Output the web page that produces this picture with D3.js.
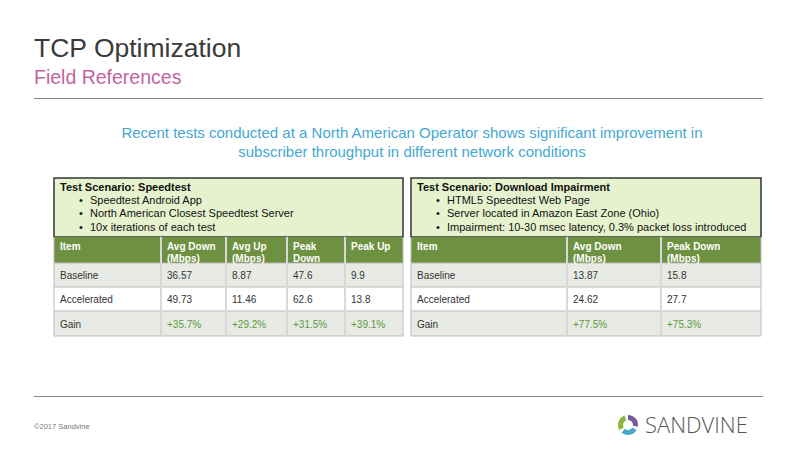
<!DOCTYPE html>
<html><head><meta charset="utf-8">
<script src="https://cdn.jsdelivr.net/npm/d3@7"></script>
<style>body{margin:0;background:#fff}svg{display:block;font-family:"Liberation Sans",Arial,sans-serif}</style>
</head><body><svg id="c" width="800" height="449"></svg>
<script>
const title="TCP Optimization", subtitle="Field References";
const intro=["Recent tests conducted at a North American Operator shows significant improvement in","subscriber throughput in different network conditions"];
const t1Title="Test Scenario: Speedtest";
const t1Bullets=["Speedtest Android App","North American Closest Speedtest Server","10x iterations of each test"];
const t1Headers=[["Item"],["Avg Down","(Mbps)"],["Avg Up","(Mbps)"],["Peak","Down"],["Peak Up"]];
const t1Rows=["Baseline","Accelerated","Gain"];
const t1Baseline=["36.57","8.87","47.6","9.9"];
const t1Accel=["49.73","11.46","62.6","13.8"];
const t1Gain=["+35.7%","+29.2%","+31.5%","+39.1%"];
const t2Title="Test Scenario: Download Impairment";
const t2Bullets=["HTML5 Speedtest Web Page","Server located in Amazon East Zone (Ohio)","Impairment: 10-30 msec latency, 0.3% packet loss introduced"];
const t2Headers=[["Item"],["Avg Down","(Mbps)"],["Peak Down","(Mbps)"]];
const t2Rows=["Baseline","Accelerated","Gain"];
const t2Baseline=["13.87","15.8"];
const t2Accel=["24.62","27.7"];
const t2Gain=["+77.5%","+75.3%"];

const svg=d3.select("#c");
svg.append("text").attr("x",34).attr("y",57).attr("font-size",26.5).attr("fill","#3a3a3a").text(title);
svg.append("text").attr("x",34).attr("y",84).attr("font-size",19.5).attr("fill","#c4649e").text(subtitle);
svg.append("line").attr("x1",34).attr("x2",763).attr("y1",98.5).attr("y2",98.5).attr("stroke","#888");
intro.forEach((t,i)=>svg.append("text").attr("x",412).attr("y",138+i*19).attr("text-anchor","middle").attr("font-size",15).attr("fill","#45a8d2").text(t));
svg.append("line").attr("x1",34).attr("x2",763).attr("y1",396.5).attr("y2",396.5).attr("stroke","#888");
svg.append("text").attr("x",34).attr("y",429).attr("font-size",7.5).attr("fill","#777").text("©2017 Sandvine");

function table(x0,cols,ttl,bullets,headers,rows,data){
  const x=d3.scaleOrdinal().domain(d3.range(cols.length)).range(cols);
  const g=svg.append("g");
  const w=cols[cols.length-1]-cols[0];
  g.append("rect").attr("x",cols[0]).attr("y",178).attr("width",w).attr("height",59).attr("fill","#e6f2cd").attr("stroke","#333").attr("stroke-width",1.5);
  g.append("text").attr("x",cols[0]+6).attr("y",191).attr("font-size",11).attr("font-weight","bold").attr("fill","#111").text(ttl);
  bullets.forEach((b,i)=>{
    g.append("text").attr("x",cols[0]+25).attr("y",204+i*13.3).attr("font-size",11).attr("fill","#111").text("•");
    g.append("text").attr("x",cols[0]+36).attr("y",204+i*13.3).attr("font-size",11).attr("fill","#111").text(b);
  });
  const ry=[237,263,287,311,336];
  const fills=["#6d9140","#e8ebe5","#ffffff","#e8ebe5"];
  fills.forEach((f,r)=>g.append("rect").attr("x",cols[0]).attr("y",ry[r]).attr("width",w).attr("height",ry[r+1]-ry[r]).attr("fill",f));
  ry.slice(1).forEach(y=>g.append("line").attr("x1",cols[0]).attr("x2",cols[cols.length-1]).attr("y1",y).attr("y2",y).attr("stroke","#bbb"));
  cols.forEach((c,i)=>g.append("line").attr("x1",c).attr("x2",c).attr("y1",237).attr("y2",336).attr("stroke",i==0||i==cols.length-1?"#bbb":"#d8d8d8").attr("stroke-width",i==0||i==cols.length-1?1:2));
  headers.forEach((h,i)=>h.forEach((l,j)=>g.append("text").attr("x",x(i)+6).attr("y",250+j*12).attr("font-size",10).attr("font-weight","bold").attr("fill","#fff").text(l)));
  rows.forEach((r,ri)=>{
    const yy=(ry[ri+1]+ry[ri+2])/2+4;
    g.append("text").attr("x",cols[0]+6).attr("y",yy).attr("font-size",10).attr("fill","#333").text(r);
    data[ri].forEach((v,ci)=>g.append("text").attr("x",x(ci+1)+6).attr("y",yy).attr("font-size",10).attr("fill",ri==2?"#5a9a3a":"#333").text(v));
  });
}
table(54,[54,161,226,287,345,403],t1Title,t1Bullets,t1Headers,t1Rows,[t1Baseline,t1Accel,t1Gain]);
table(411,[411,567,661,761],t2Title,t2Bullets,t2Headers,t2Rows,[t2Baseline,t2Accel,t2Gain]);

const lg=svg.append("g").attr("transform","translate(628,425)");
[["#7a5a9a",0],["#4aa8c8",120],["#8ab840",240]].forEach(([c,a])=>lg.append("path").attr("d",d3.arc()({innerRadius:5,outerRadius:10,startAngle:a*Math.PI/180,endAngle:(a+100)*Math.PI/180})).attr("fill",c));
svg.append("text").attr("x",645).attr("y",433).attr("font-size",22).attr("fill","#555").attr("font-family","'Open Sans',sans-serif").attr("font-weight",300).text("SANDVINE");
</script></body></html>
